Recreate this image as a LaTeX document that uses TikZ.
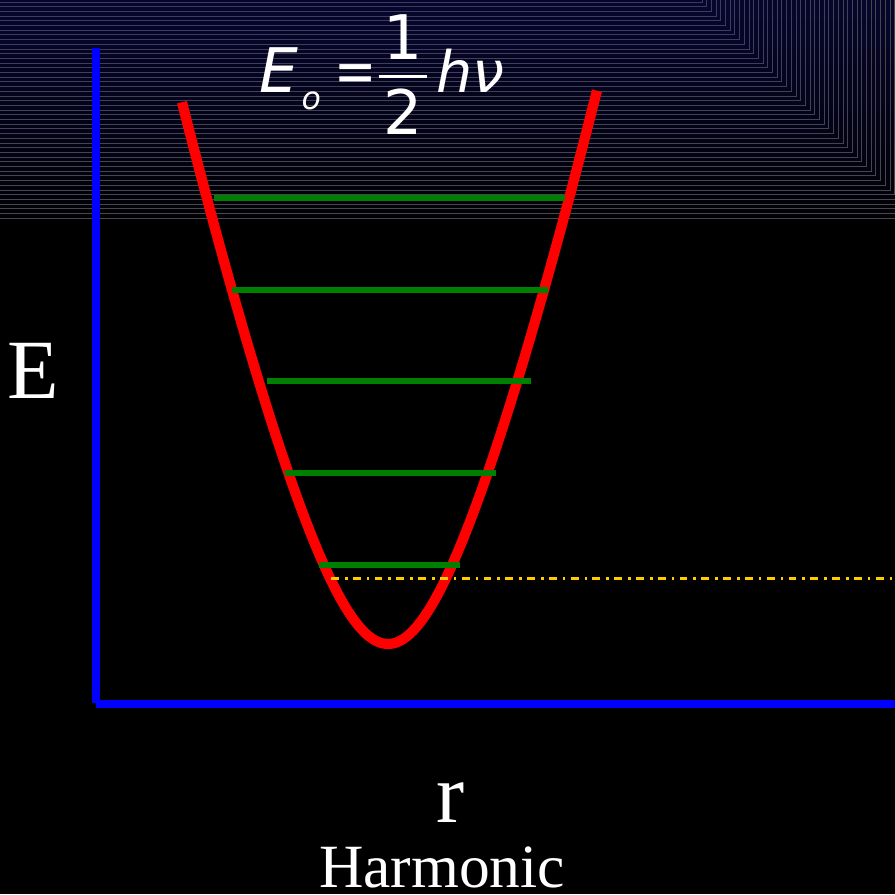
\documentclass[tikz,border=0pt]{standalone}
\usepackage{fix-cm}
\usepackage{amsmath}
\usepackage{fontspec}
\setmainfont{Liberation Serif}
\newfontfamily\eqfont[ItalicFont={DejaVu Sans Oblique}]{DejaVu Sans}
\definecolor{bandnavy}{RGB}{6,6,44}
\definecolor{stripeblue}{RGB}{58,58,104}
\definecolor{stripegray}{RGB}{72,72,76}
\definecolor{levelgreen}{RGB}{0,128,0}
\definecolor{zeroyellow}{RGB}{255,204,0}

\begin{document}
\begin{tikzpicture}[x=0.02cm, y=-0.02cm,
  axis/.style={draw=blue, line width=4.5pt},
  potential/.style={draw=red, line width=5.8pt, line join=round},
  level/.style={draw=levelgreen, line width=3pt},
  zeroline/.style={draw=zeroyellow, line width=1.7pt, dash pattern=on 4.5pt off 3.4pt on 1.5pt off 3pt},
  stripe/.style={line width=0.55pt},
  label/.style={text=white, inner sep=0pt, anchor=base}]
 \fill[black] (0,0) rectangle (895,894);
 \clip (0,0) rectangle (895,894);
 \shade[top color=bandnavy, bottom color=black!90!bandnavy] (0,0) rectangle (895,222);
 \foreach \i in {0,...,46}{
   \pgfmathsetmacro\yy{2+4.7*\i}
   \pgfmathsetmacro\cx{700+\yy}
   \pgfmathsetmacro\mix{100*\i/46}
   \draw[stripe, color=stripegray!\mix!stripeblue] (0,\yy) -- (\cx,\yy) -- (\cx,0);
 }
 \coordinate (origin) at (96,704);
 \coordinate (etop) at (96,48);
 \coordinate (rend) at (895,704);
 \draw[axis] (etop) -- (96,703);
 \draw[axis] (origin) -- (rend);
 \draw[potential] plot[domain=-2.06:2.09, samples=121, variable=\t]
   ({388+100*\t}, {644-300*(sqrt(\t*\t+0.64)-0.8)-28*\t*\t});
 \foreach \y/\xa/\xb in {198/214/565, 290/232/548, 381/267/531, 473/285/496, 565/319/460}
   \draw[level] (\xa,\y) -- (\xb,\y);
 \coordinate (zerostart) at (331,578);
 \coordinate (zeroend) at (895,578);
 \draw[zeroline] (zerostart) -- (zeroend);
 \node[label, font=\fontsize{48}{52}\selectfont] (elabel) at (33,398) {E};
 \node[label, font=\fontsize{48}{52}\selectfont] (rlabel) at (451,822) {r};
 \node[label, font=\fontsize{35}{40}\selectfont] (harmonic) at (442,887) {Harmonic};
 \node[label, anchor=base west, font=\eqfont\fontsize{35}{40}\selectfont] (energy) at (259,92)
   {\itshape E\hspace{2pt}\raisebox{-10pt}{\fontsize{18}{20}\selectfont o}\hspace{7.5pt}\upshape\scalebox{0.82}[1]{=}$\displaystyle\genfrac{}{}{1.9pt}{0}{\hspace{2.5pt}\raisebox{-5pt}{\upshape 1}\hspace{2.5pt}}{\text{\upshape 2}}$\hspace{4.3pt}\scalebox{0.93}{\itshape hν}};
\end{tikzpicture}
\end{document}
